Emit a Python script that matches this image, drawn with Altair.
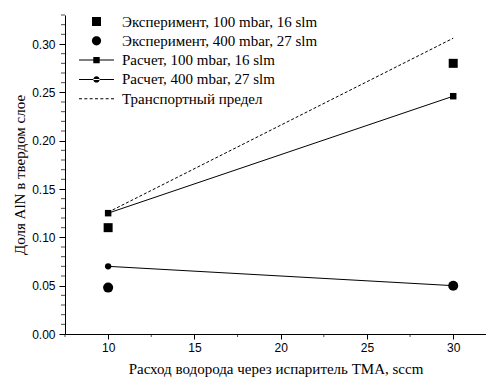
import altair as alt
import pandas as pd

# ---- data ----
flow = [10, 30]
exp_100 = [0.110, 0.280]
exp_400 = [0.048, 0.050]
calc_100 = [0.125, 0.246]
calc_400 = [0.070, 0.050]
transport = [0.126, 0.306]

labels = [
    "Эксперимент, 100 mbar, 16 slm",
    "Эксперимент, 400 mbar, 27 slm",
    "Расчет, 100 mbar, 16 slm",
    "Расчет, 400 mbar, 27 slm",
    "Транспортный предел",
]

y_major = [0.0, 0.05, 0.10, 0.15, 0.20, 0.25, 0.30]
y_minor = [round(i * 0.01, 2) for i in range(34) if i % 5 != 0]
x_major = [10, 15, 20, 25, 30]
x_minor = [7.5, 12.5, 17.5, 22.5, 27.5]

rows = []
for name, vals in zip(labels, [exp_100, exp_400, calc_100, calc_400, transport]):
    for xv, yv in zip(flow, vals):
        rows.append({"series": name, "x": xv, "y": yv})
for v in y_minor:
    rows.append({"series": "tick_y", "x": 10.0, "y": v})
for v in x_minor:
    rows.append({"series": "tick_x", "x": v, "y": 0.1})
df = pd.DataFrame(rows)

# ---- legend symbol paths (units scaled by sqrt(size)/2 = 4px) ----
def rect(x0, x1, y0, y1):
    return f"M{x0},{y0}H{x1}V{y1}H{x0}Z"

def circ(r):
    return f"M{-r},0A{r},{r} 0 1,0 {r},0A{r},{r} 0 1,0 {-r},0Z"

half = 4.375
lw = 0.13
line_path = rect(-half, half, -lw, lw)
dashes = []
n = 7
d = 0.75
g = (2 * half - n * d) / (n - 1)
for i in range(n):
    x0 = -half + i * (d + g)
    dashes.append(rect(round(x0, 3), round(x0 + d, 3), -lw, lw))
legend_paths = [
    rect(-1.125, 1.125, -1.125, 1.125),
    circ(1.15),
    line_path + " " + rect(-0.8, 0.8, -0.8, 0.8),
    line_path + " " + circ(0.8),
    " ".join(dashes),
]

W, H = 421, 319
xs = alt.Scale(domain=[7.5, 31.9], nice=False, zero=False)
ys = alt.Scale(domain=[0, 0.33], nice=False, zero=False)

ax_x_major = alt.Axis(values=x_major, orient="bottom", offset=0, tickSize=5, labelPadding=3,
                      title="Расход водорода через испаритель TMA, sccm",
                      titlePadding=8, format="d")
ax_y_major = alt.Axis(values=y_major, orient="left", offset=0, tickSize=6, labelPadding=4,
                      title="Доля AlN в твердом слое", titlePadding=4, format=".2f")

base = alt.Chart(df)

transport_line = base.transform_filter(alt.datum.series == labels[4]).mark_line(
    color="black", strokeWidth=1, strokeDash=[3, 2]
).encode(
    x=alt.X("x:Q", scale=xs, axis=ax_x_major),
    y=alt.Y("y:Q", scale=ys, axis=ax_y_major),
)

calc_lines = base.transform_filter(
    (alt.datum.series == labels[2]) | (alt.datum.series == labels[3])
).mark_line(color="black", strokeWidth=1).encode(
    x=alt.X("x:Q", scale=xs, axis=None),
    y=alt.Y("y:Q", scale=ys, axis=None),
    detail="series:N",
)

def pts(label, shape, size):
    return base.transform_filter(alt.datum.series == label).mark_point(
        filled=True, color="black", opacity=1, shape=shape, size=size
    ).encode(
        x=alt.X("x:Q", scale=xs, axis=None),
        y=alt.Y("y:Q", scale=ys, axis=None),
    )

calc_sq = pts(labels[2], "square", 42)
calc_ci = pts(labels[3], "circle", 40)
exp_sq = pts(labels[0], "square", 81)
exp_ci = pts(labels[1], "circle", 100)

# minor ticks, positioned by the chart's own scales
y_minor_ticks = base.transform_filter(alt.datum.series == "tick_y").mark_tick(
    color="black", thickness=1, size=4, orient="horizontal", xOffset=-2
).encode(
    y=alt.Y("y:Q", scale=ys, axis=None),
    x=alt.value(0),
)
x_minor_ticks = base.transform_filter(alt.datum.series == "tick_x").mark_tick(
    color="black", thickness=1, size=3, orient="vertical", yOffset=1.5
).encode(
    x=alt.X("x:Q", scale=xs, axis=None),
    y=alt.value(H),
)

legend_layer = base.transform_filter(
    alt.FieldOneOfPredicate(field="series", oneOf=labels)
).mark_point(filled=True, color="black", opacity=0, size=64).encode(
    x=alt.X("x:Q", scale=xs, axis=None),
    y=alt.Y("y:Q", scale=ys, axis=None),
    shape=alt.Shape(
        "series:N",
        scale=alt.Scale(domain=labels, range=legend_paths),
        legend=alt.Legend(
            title=None, orient="none", legendX=24, legendY=-1,
            labelFont="Liberation Serif", labelFontSize=15, labelColor="black",
            labelLimit=400, labelOffset=18, rowPadding=3.3, padding=0,
            symbolSize=64, symbolFillColor="black", symbolStrokeWidth=0,
            symbolOpacity=1,
        ),
    ),
)

chart = alt.layer(
    transport_line, calc_lines, calc_sq, calc_ci, exp_sq, exp_ci,
    y_minor_ticks, x_minor_ticks, legend_layer
).resolve_axis(x="independent", y="independent").properties(
    width=W, height=H,
    autosize=alt.AutoSizeParams(type="none"),
    padding={"left": 57, "top": 7, "right": 0, "bottom": 46},
).configure_view(stroke=None).configure_axis(
    grid=False, domainColor="black", tickColor="black", labelColor="black",
    titleColor="black", labelFont="Liberation Sans", labelFontSize=12,
    titleFont="Liberation Serif", titleFontSize=15, titleFontWeight="normal",
    domainWidth=1, tickWidth=1,
)

chart.save("out.html", embed_options={"renderer": "svg", "actions": False})
